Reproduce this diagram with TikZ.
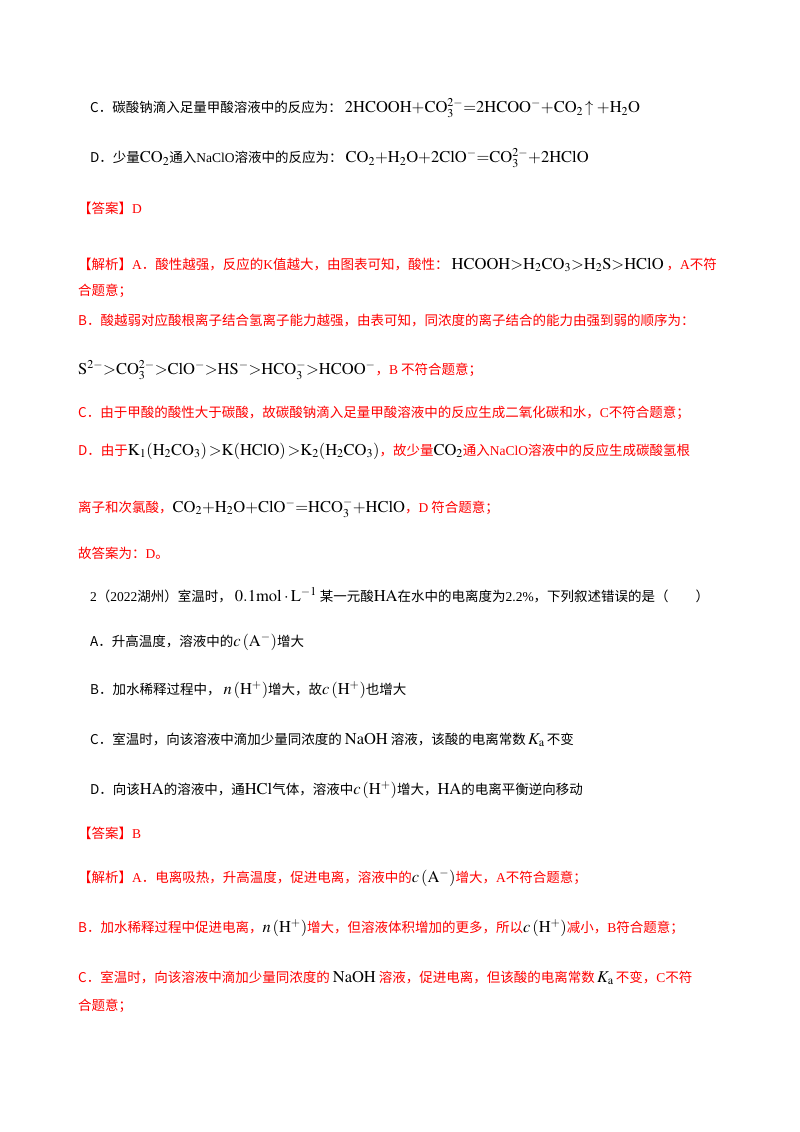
\documentclass[tikz,border=0pt]{standalone}
\usepackage{mathptmx}
\usepackage{fontspec}
\setmainfont{Noto Sans CJK SC}
\newfontfamily\tm{Liberation Serif}
\newcommand\f[1]{{\tm #1}}
\DeclareMathSizes{13.5}{16.5}{12}{9}
\begin{document}
\begin{tikzpicture}[x=1pt,y=-1pt,
  ln/.style={anchor=west,inner sep=0pt,font=\fontsize{13.5}{16}\selectfont}]
\useasboundingbox[fill=white] (0,0) rectangle (800,1132);
\node[ln] (l1) at (90,108) {C．碳酸钠滴入足量甲酸溶液中的反应为：\ $\mathrm{2HCOOH{+}CO_3^{2-}{=}2HCOO^{-}{+}CO_2\!\uparrow{+}H_2O}$};
\node[ln] (l2) at (90,158) {D．少量$\mathrm{CO_2}$通入\f{NaClO}溶液中的反应为：\ $\mathrm{CO_2{+}H_2O{+}2ClO^{-}{=}CO_3^{2-}{+}2HClO}$};
\node[ln,text=red] (l3) at (78,208) {【答案】\f{D}};
\node[ln] (l4) at (78,265) {\color{red}【解析】\f{A}．酸性越强，反应的\f{K}值越大，由图表可知，酸性：\ \color{black}$\mathrm{HCOOH{>}H_2CO_3{>}H_2S{>}HClO}$\ \color{red}，\f{A}不符};
\node[ln,text=red] (l5) at (78,291) {合题意；};
\node[ln,text=red] (l6) at (78,320) {B．酸越弱对应酸根离子结合氢离子能力越强，由表可知，同浓度的离子结合的能力由强到弱的顺序为：};
\node[ln] (l7) at (78,370) {$\mathrm{S^{2-}{>}CO_3^{2-}{>}ClO^{-}{>}HS^{-}{>}HCO_3^{-}{>}HCOO^{-}}$\color{red}，\f{B} 不符合题意；};
\node[ln,text=red] (l8) at (78,413) {C．由于甲酸的酸性大于碳酸，故碳酸钠滴入足量甲酸溶液中的反应生成二氧化碳和水，\f{C}不符合题意；};
\node[ln] (l9) at (78,451) {\color{red}D．由于\color{black}$\mathrm{K_1\!\left(H_2CO_3\right){>}K\!\left(HClO\right){>}K_2\!\left(H_2CO_3\right)}$\color{red}，故少量\color{black}$\mathrm{CO_2}$\color{red}通入\f{NaClO}溶液中的反应生成碳酸氢根};
\node[ln] (l10) at (78,508) {\color{red}离子和次氯酸，\color{black}$\mathrm{CO_2{+}H_2O{+}ClO^{-}{=}HCO_3^{-}{+}HClO}$\color{red}，\f{D} 符合题意；};
\node[ln,text=red] (l11) at (78,553) {故答案为：\f{D}。};
\node[ln] (l12) at (90,595) {\f{2}（\f{2022}湖州）室温时，\ $0.1\mathrm{mol\cdot L^{-1}}$\ 某一元酸$\mathrm{HA}$在水中的电离度为\f{2.2\%}，下列叙述错误的是（\qquad）};
\node[ln] (l13) at (90,642) {A．升高温度，溶液中的$c\left(\mathrm{A^{-}}\right)$增大};
\node[ln] (l14) at (90,690) {B．加水稀释过程中，\ $n\left(\mathrm{H^{+}}\right)$增大，故$c\left(\mathrm{H^{+}}\right)$也增大};
\node[ln] (l15) at (90,740) {C．室温时，向该溶液中滴加少量同浓度的\ $\mathrm{NaOH}$\ 溶液，该酸的电离常数\,$K_{\mathrm a}$\,不变};
\node[ln] (l16) at (90,790) {D．向该$\mathrm{HA}$的溶液中，通$\mathrm{HCl}$气体，溶液中$c\left(\mathrm{H^{+}}\right)$增大，$\mathrm{HA}$的电离平衡逆向移动};
\node[ln,text=red] (l17) at (78,833) {【答案】\f{B}};
\node[ln] (l18) at (78,878) {\color{red}【解析】\f{A}．电离吸热，升高温度，促进电离，溶液中的\color{black}$c\left(\mathrm{A^{-}}\right)$\color{red}增大，\f{A}不符合题意；};
\node[ln] (l19) at (78,928) {\color{red}B．加水稀释过程中促进电离，\color{black}$n\left(\mathrm{H^{+}}\right)$\color{red}增大，但溶液体积增加的更多，所以\color{black}$c\left(\mathrm{H^{+}}\right)$\color{red}减小，\f{B}符合题意；};
\node[ln] (l20) at (78,978) {\color{red}C．室温时，向该溶液中滴加少量同浓度的\ \color{black}$\mathrm{NaOH}$\ \color{red}溶液，促进电离，但该酸的电离常数\,\color{black}$K_{\mathrm a}$\,\color{red}不变，\f{C}不符};
\node[ln,text=red] (l21) at (78,1006) {合题意；};
\end{tikzpicture}
\end{document}
